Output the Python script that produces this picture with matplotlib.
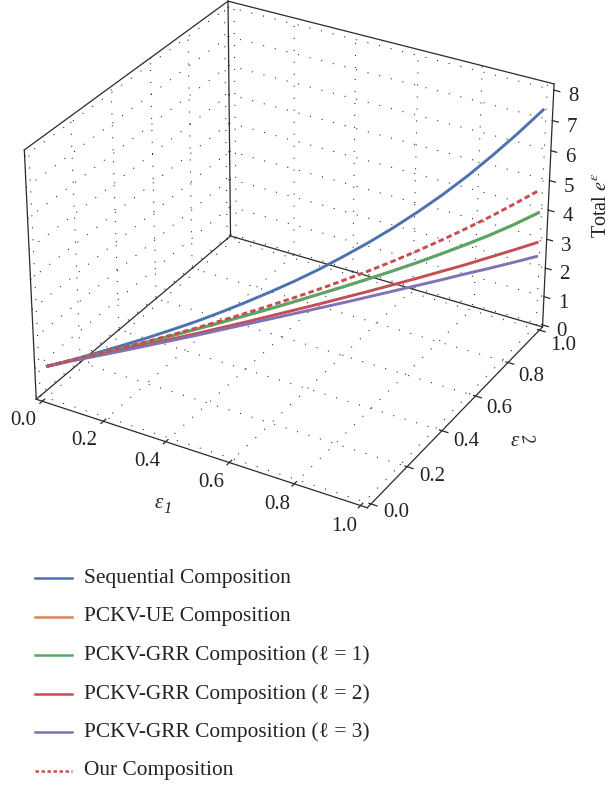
import matplotlib
matplotlib.use("Agg")
import matplotlib.pyplot as plt
from mpl_toolkits.mplot3d import proj3d

plt.rcParams['font.family'] = ['Liberation Serif', 'DejaVu Serif']
plt.rcParams['mathtext.fontset'] = 'stix'

# data
t = [0.005, 0.05, 0.1, 0.15, 0.2, 0.25, 0.3, 0.35, 0.4, 0.45, 0.5, 0.55, 0.6, 0.65, 0.7, 0.75, 0.8, 0.85, 0.9, 0.95, 1.0]
sequential = [1.01, 1.10, 1.22, 1.35, 1.49, 1.65, 1.82, 2.02, 2.24, 2.48, 2.74, 3.03, 3.36, 3.71, 4.10, 4.53, 5.00, 5.52, 6.10, 6.72, 7.39]
pckv_ue = [1.01, 1.09, 1.17, 1.26, 1.35, 1.45, 1.56, 1.67, 1.79, 1.91, 2.04, 2.18, 2.32, 2.47, 2.63, 2.80, 2.99, 3.19, 3.41, 3.66, 3.95]
grr_1 = [1.01, 1.09, 1.17, 1.26, 1.35, 1.45, 1.56, 1.67, 1.79, 1.91, 2.04, 2.18, 2.32, 2.47, 2.63, 2.80, 2.99, 3.19, 3.41, 3.66, 3.95]
grr_2 = [1.01, 1.08, 1.14, 1.20, 1.27, 1.34, 1.41, 1.49, 1.57, 1.66, 1.75, 1.84, 1.94, 2.04, 2.15, 2.26, 2.38, 2.50, 2.64, 2.78, 2.93]
grr_3 = [1.01, 1.07, 1.12, 1.17, 1.23, 1.29, 1.35, 1.42, 1.49, 1.56, 1.63, 1.70, 1.77, 1.85, 1.93, 2.01, 2.09, 2.18, 2.26, 2.35, 2.45]
ours = [1.01, 1.10, 1.18, 1.27, 1.37, 1.48, 1.60, 1.73, 1.87, 2.02, 2.18, 2.35, 2.54, 2.74, 2.96, 3.20, 3.46, 3.74, 4.04, 4.37, 4.72]

names = ['Sequential Composition', 'PCKV-UE Composition',
         'PCKV-GRR Composition (\u2113 = 1)', 'PCKV-GRR Composition (\u2113 = 2)',
         'PCKV-GRR Composition (\u2113 = 3)', 'Our Composition']
colors = ['#4C72B0', '#DD8452', '#55A868', '#C44E52', '#8172B3', '#C44E52']
xticks = [0.0, 0.2, 0.4, 0.6, 0.8, 1.0]
yticks = [0.0, 0.2, 0.4, 0.6, 0.8, 1.0]
zticks = [0, 1, 2, 3, 4, 5, 6, 7, 8]

X0, X1 = -0.02, 1.02
Y0, Y1 = -0.02, 1.02
Z0, Z1 = -0.07, 8.2
FW, FH = 611, 786
INK = '#222222'

fig = plt.figure(figsize=(FW / 100, FH / 100), dpi=100)
ax = fig.add_subplot(projection='3d', computed_zorder=False)
ax.set_xlim(X0, X1)
ax.set_ylim(Y0, Y1)
ax.set_zlim(Z0, Z1)
ax.set_axis_off()
ax.view_init(30.066, -60.086, -0.063)
ax.set_box_aspect((1, 1, 0.75), zoom=1.014)

# axes box in pixels, fitted to the corners of the reference cube
W, CX, CY = 580.79, 286.42, 249.99
ax.set_position([(CX - W / 2) / FW, 1 - (CY + W / 2) / FH, W / FW, W / FH])

def seg(x, y, z, **kw):
    ax.plot(x, y, z, **kw)

def tick_label(x, y, z, s):
    # place a 2D text at the projected point
    px, py, _ = proj3d.proj_transform(x, y, z, ax.get_proj())
    ax.text2D(px, py, s, transform=ax.transData, fontsize=15, ha='center', va='center', color=INK)

grid = dict(color='black', lw=0.75, ls=(0, (1, 10.5)), alpha=0.9, zorder=1)
for v in xticks:
    seg([v, v], [Y0, Y1], [Z0, Z0], **grid)
    seg([v, v], [Y1, Y1], [Z0, Z1], **grid)
for v in yticks:
    seg([X0, X1], [v, v], [Z0, Z0], **grid)
    seg([X0, X0], [v, v], [Z0, Z1], **grid)
for v in zticks:
    seg([X0, X0], [Y0, Y1], [v, v], **grid)
    seg([X0, X1], [Y1, Y1], [v, v], **grid)

frame = dict(color='#2a2a2a', lw=0.9, zorder=2)
seg([X0, X1], [Y0, Y0], [Z0, Z0], **frame)
seg([X1, X1], [Y0, Y1], [Z0, Z0], **frame)
seg([X0, X1], [Y1, Y1], [Z0, Z0], **frame)
seg([X0, X0], [Y0, Y1], [Z0, Z0], **frame)
seg([X0, X0], [Y0, Y0], [Z0, Z1], **frame)
seg([X0, X0], [Y1, Y1], [Z0, Z1], **frame)
seg([X1, X1], [Y1, Y1], [Z0, Z1], **frame)
seg([X0, X0], [Y0, Y1], [Z1, Z1], **frame)
seg([X0, X1], [Y1, Y1], [Z1, Z1], **frame)

for v in xticks:
    seg([v, v], [Y0 - 0.012, Y0 + 0.012], [Z0, Z0], **frame)
    tick_label(v + 0.008, Y0 - 0.105, Z0, '%.1f' % v)
for v in yticks:
    seg([X1 - 0.006, X1 + 0.018], [v, v], [Z0, Z0], **frame)
    tick_label(X1 + 0.075, v, Z0 - 0.3 * v, '%.1f' % v)
for v in zticks:
    seg([X1, X1 + 0.018], [Y1, Y1], [v, v], **frame)
    tick_label(X1 + 0.06, Y1, v - 0.05, str(v))

series = [sequential, pckv_ue, grr_1, grr_2, grr_3, ours]
for i, vals in enumerate(series):
    ax.plot(t, t, vals, color=colors[i], lw=2.1, ls=(0, (1.9, 1.1)) if i == 5 else '-', zorder=3 + i)

# legend and rotated labels in pixel coordinates, on their own layer
lg = fig.add_axes([0, 0, 1, 1])
lg.set_xlim(0, FW)
lg.set_ylim(FH, 0)
lg.axis('off')
rows = [578, 616.5, 655, 693.5, 732, 770.5]
for i in range(6):
    lg.plot([35, 72], [rows[i], rows[i]], color=colors[i], lw=1.8, ls=(0, (1.4, 1.0)) if i == 5 else '-')
    lg.text(84, rows[i] + 5, names[i], fontsize=15.4, va='baseline', color=INK)

lg.text(159, 503, '\u03b5', fontsize=15, style='italic', ha='center', va='center', color=INK)
lg.text(168, 509, '1', fontsize=12, style='italic', ha='center', va='center', color=INK)
lg.text(515, 441, '\u03b5', fontsize=15, style='italic', ha='center', va='center', color=INK)
lg.text(526, 439, '2', fontsize=13, style='italic', rotation=-80, ha='center', va='center', color=INK)
lg.text(601, 205, r'Total $e^{\varepsilon}$', fontsize=14.5, rotation=90, ha='center', va='center', color=INK)

fig.savefig('out.png', dpi=100)
